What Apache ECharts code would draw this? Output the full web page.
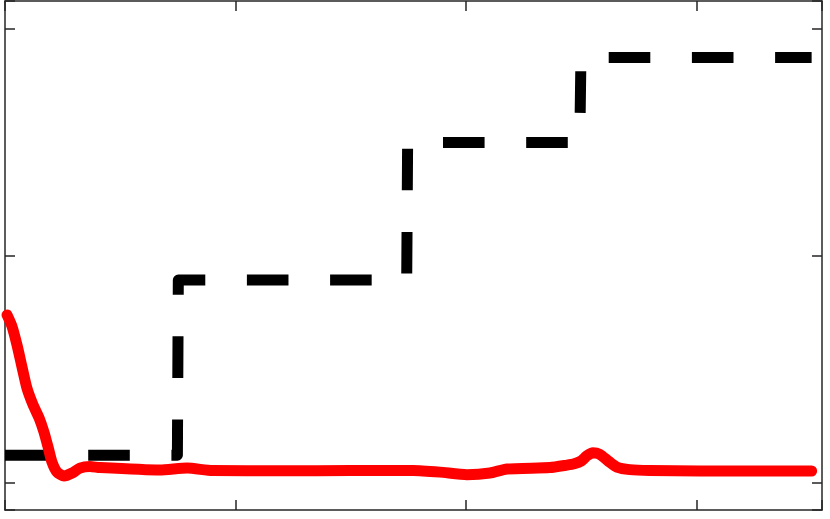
<!DOCTYPE html>
<html>
<head>
<meta charset="utf-8">
<script src="https://cdn.jsdelivr.net/npm/echarts@6/dist/echarts.min.js"></script>
<style>
html,body{margin:0;padding:0;background:#fff;}
#chart{width:830px;height:519px;}
</style>
</head>
<body>
<div id="chart"></div>
<script>
// Reference (dashed black) step signal
const refX = [0, 0.748, 0.752, 1.743, 1.747, 2.494, 2.499, 3.5];
const refY = [0.121, 0.121, 0.893, 0.893, 1.5, 1.5, 1.875, 1.875];

// Response (red) curve
const respX = [0.009, 0.030, 0.052, 0.074, 0.095, 0.122, 0.148, 0.169, 0.187, 0.204, 0.226, 0.256, 0.291, 0.325, 0.369, 0.412, 0.672, 0.79, 0.9, 1.2, 1.5, 1.77, 1.887, 2.004, 2.104, 2.178, 2.364, 2.438, 2.47, 2.50, 2.525, 2.551, 2.58, 2.62, 2.655, 2.711, 2.798, 3.015, 3.5];
const respY = [0.739, 0.690, 0.607, 0.509, 0.417, 0.342, 0.285, 0.223, 0.156, 0.090, 0.046, 0.029, 0.042, 0.064, 0.071, 0.066, 0.055, 0.064, 0.053, 0.052, 0.053, 0.053, 0.046, 0.035, 0.042, 0.060, 0.066, 0.077, 0.083, 0.095, 0.118, 0.132, 0.125, 0.093, 0.068, 0.057, 0.053, 0.051, 0.051];

const xMin = 0, xMax = 3.545;
const yMin = -0.121, yMax = 2.124;

const pair = (xs, ys) => xs.map((x, i) => [x, ys[i]]);

const axisColor = '#262626';
function mkAxis(extra) {
  return Object.assign({
    type: 'value',
    splitLine: { show: false },
    axisLabel: { show: false },
    axisLine: { show: true, onZero: false, lineStyle: { color: axisColor, width: 1.5 } },
    axisTick: { show: true, inside: true, length: 10, lineStyle: { color: axisColor, width: 1.5 } }
  }, extra);
}

const chart = echarts.init(document.getElementById('chart'));
chart.setOption({
  animation: false,
  backgroundColor: '#fff',
  grid: { left: 5, right: 8, top: 1, bottom: 9, containLabel: false },
  xAxis: [
    mkAxis({ min: xMin, max: xMax, splitNumber: 3, position: 'bottom' }),
    mkAxis({ min: xMin, max: xMax, splitNumber: 3, position: 'top' })
  ],
  yAxis: [
    mkAxis({ min: yMin, max: yMax, splitNumber: 2, position: 'left' }),
    mkAxis({ min: yMin, max: yMax, splitNumber: 2, position: 'right' })
  ],
  series: [
    {
      type: 'line',
      data: pair(refX, refY),
      showSymbol: false,
      symbol: 'none',
      lineStyle: { color: '#000', width: 11, type: [41.6, 41.6], cap: 'butt', join: 'round' },
      z: 2
    },
    {
      type: 'line',
      data: pair(respX, respY),
      showSymbol: false,
      symbol: 'none',
      smooth: 0.2,
      lineStyle: { color: '#ff0000', width: 11, cap: 'round', join: 'round' },
      z: 3
    }
  ]
});
</script>
</body>
</html>
